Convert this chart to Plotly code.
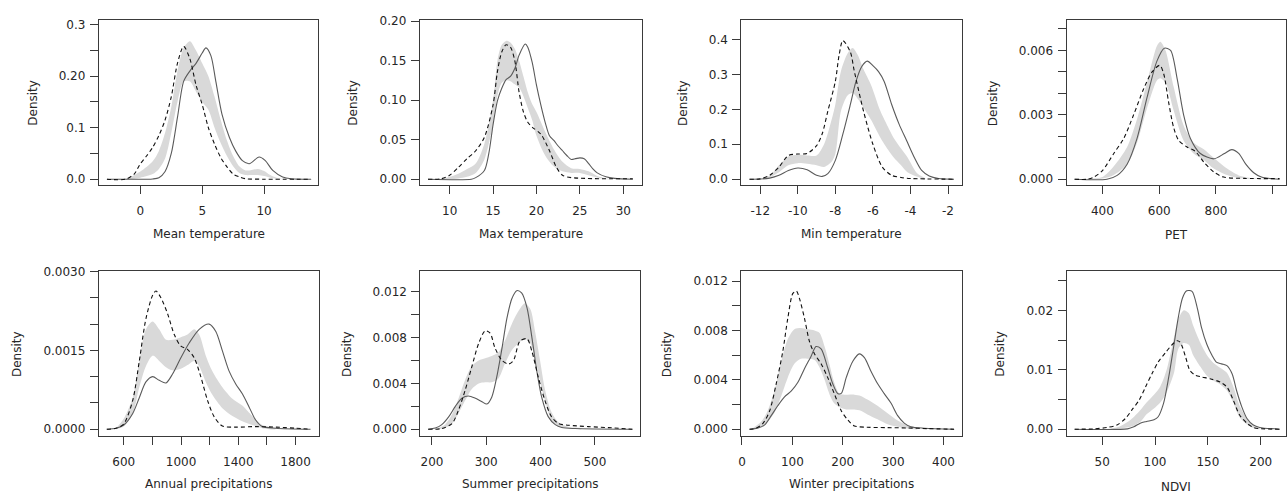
import plotly.graph_objects as go

W, H = 1287, 495

# ---------------- data ----------------
# Panel 1: Mean temperature
mt_solid_x = [-2.7, 0.5, 1.0, 1.5, 2.0, 2.5, 3.0, 3.5, 4.0, 4.5, 5.0, 5.3, 5.7, 6.1, 6.6, 7.2, 7.7, 8.25, 8.8, 9.6, 10.1, 10.7, 11.5, 12.2, 13.8]
mt_solid_y = [0, 0, 0.0005, 0.003, 0.015, 0.05, 0.12, 0.19, 0.21, 0.225, 0.245, 0.255, 0.24, 0.19, 0.126, 0.081, 0.055, 0.036, 0.03, 0.043, 0.036, 0.017, 0.0045, 0.001, 0]
mt_dash_x = [-2.7, -1.2, -0.5, 0, 0.5, 1, 1.5, 2, 2.5, 3, 3.5, 4.0, 4.5, 5, 5.5, 6, 6.5, 7, 7.5, 8, 8.5, 10, 13.8]
mt_dash_y = [0, 0, 0.01, 0.03, 0.045, 0.062, 0.085, 0.115, 0.16, 0.225, 0.258, 0.234, 0.183, 0.145, 0.1, 0.068, 0.042, 0.024, 0.01, 0.0045, 0.001, 0, 0]
mt_band_x = [-1.5, -1, 0, 1, 1.5, 2, 2.5, 3, 3.5, 4, 4.5, 5, 5.5, 6, 6.5, 7, 7.5, 8, 8.5, 9, 9.5, 10, 10.5, 11, 12]
mt_band_hi = [0, 0.002, 0.015, 0.035, 0.055, 0.09, 0.14, 0.21, 0.255, 0.268, 0.25, 0.225, 0.2, 0.16, 0.115, 0.075, 0.045, 0.025, 0.017, 0.018, 0.02, 0.016, 0.008, 0.003, 0]
mt_band_lo = [0, 0, 0.003, 0.01, 0.02, 0.04, 0.09, 0.15, 0.19, 0.19, 0.17, 0.15, 0.135, 0.1, 0.07, 0.045, 0.025, 0.012, 0.008, 0.008, 0.008, 0.006, 0.003, 0.001, 0]

# Panel 2: Max temperature
xt_solid_x = [7.5, 12.5, 13, 14, 14.5, 15, 15.5, 16, 16.5, 17, 17.5, 18, 18.7, 19, 19.5, 20, 20.5, 21, 21.5, 22, 22.5, 23, 23.5, 24, 24.5, 25, 25.5, 26, 26.5, 27, 28, 29, 31.1]
xt_solid_y = [0, 0, 0.002, 0.011, 0.032, 0.069, 0.099, 0.115, 0.126, 0.13, 0.14, 0.157, 0.171, 0.167, 0.148, 0.119, 0.094, 0.072, 0.055, 0.049, 0.042, 0.036, 0.03, 0.025, 0.026, 0.027, 0.026, 0.02, 0.013, 0.008, 0.003, 0.001, 0]
xt_dash_x = [7.5, 9, 10, 11, 12, 13, 14, 15, 15.5, 16, 16.5, 17, 17.5, 18, 18.5, 19, 19.5, 20.5, 21.5, 22.3, 23, 24, 31.1]
xt_dash_y = [0, 0.0005, 0.005, 0.015, 0.026, 0.036, 0.053, 0.094, 0.136, 0.161, 0.17, 0.167, 0.15, 0.11, 0.085, 0.072, 0.066, 0.057, 0.036, 0.015, 0.005, 0.002, 0.0005]
xt_band_x = [9, 10, 11, 12, 13, 14, 15, 15.5, 16, 16.5, 17, 17.5, 18, 18.5, 19, 19.5, 20, 21, 22, 23, 24, 25, 26, 27, 28, 29]
xt_band_hi = [0, 0.003, 0.007, 0.013, 0.02, 0.045, 0.1, 0.15, 0.17, 0.175, 0.173, 0.165, 0.15, 0.13, 0.11, 0.095, 0.085, 0.06, 0.038, 0.022, 0.014, 0.013, 0.01, 0.004, 0.001, 0]
xt_band_lo = [0, 0, 0.001, 0.003, 0.008, 0.025, 0.07, 0.105, 0.122, 0.125, 0.124, 0.12, 0.116, 0.105, 0.09, 0.075, 0.055, 0.03, 0.016, 0.01, 0.008, 0.008, 0.005, 0.002, 0, 0]

# Panel 3: Min temperature
nt_solid_x = [-12.57, -12, -11.5, -11, -10.5, -10, -9.5, -9, -8.7, -8.4, -8, -7.6, -7.2, -6.9, -6.6, -6.3, -6, -5.7, -5.4, -5, -4.6, -4.2, -3.8, -3.4, -3, -2.5, -1.68]
nt_solid_y = [0, 0.0005, 0.003, 0.011, 0.025, 0.032, 0.027, 0.011, 0.008, 0.016, 0.054, 0.129, 0.214, 0.28, 0.322, 0.338, 0.325, 0.308, 0.28, 0.214, 0.157, 0.11, 0.063, 0.025, 0.009, 0.002, 0]
nt_dash_x = [-12.57, -12, -11.5, -11, -10.5, -10, -9.5, -9, -8.7, -8.4, -8, -7.8, -7.6, -7.2, -7, -6.5, -6, -5.5, -5, -4.5, -4, -1.68]
nt_dash_y = [0, 0.001, 0.011, 0.035, 0.068, 0.072, 0.074, 0.096, 0.13, 0.195, 0.28, 0.355, 0.397, 0.364, 0.312, 0.195, 0.1, 0.035, 0.011, 0.005, 0.002, 0]
nt_band_x = [-12, -11.5, -11, -10.5, -10, -9.5, -9, -8.6, -8.2, -8, -7.7, -7.35, -7.08, -6.8, -6.5, -6.1, -5.6, -5.2, -4.9, -4.5, -4.16, -3.63, -3.2]
nt_band_hi = [0, 0.01, 0.04, 0.065, 0.07, 0.068, 0.068, 0.1, 0.17, 0.214, 0.31, 0.36, 0.376, 0.355, 0.315, 0.27, 0.195, 0.15, 0.119, 0.088, 0.063, 0.016, 0.002]
nt_band_lo = [0, 0.005, 0.02, 0.04, 0.046, 0.044, 0.04, 0.035, 0.05, 0.072, 0.195, 0.24, 0.247, 0.23, 0.205, 0.17, 0.119, 0.085, 0.063, 0.04, 0.02, 0.007, 0.001]

# Panel 4: PET
pet_solid_x = [302, 416, 452, 487, 522, 557, 592, 618, 640, 663, 686, 710, 745, 792, 830, 856, 880, 905, 933, 960, 1000, 1024]
pet_solid_y = [0, 0, 0.00018, 0.0007, 0.0019, 0.0038, 0.0055, 0.0061, 0.006, 0.0047, 0.003, 0.0019, 0.0012, 0.00095, 0.0012, 0.00138, 0.0012, 0.0007, 0.0003, 0.0001, 0.00002, 0]
pet_dash_x = [302, 346, 370, 400, 440, 475, 510, 545, 575, 602, 616, 633, 651, 669, 698, 727, 757, 792, 827, 900, 1024]
pet_dash_y = [0, 0, 0.0001, 0.0004, 0.0012, 0.0019, 0.003, 0.0042, 0.005, 0.0053, 0.0049, 0.0036, 0.0024, 0.0018, 0.0015, 0.0013, 0.0008, 0.00034, 0.0001, 0.00004, 0.00003]
pet_band_x = [346, 400, 440, 487, 522, 557, 592, 604, 622, 651, 686, 721, 757, 792, 839, 886, 933, 980]
pet_band_hi = [0.00002, 0.0001, 0.0006, 0.0015, 0.0028, 0.0045, 0.0062, 0.0064, 0.006, 0.0043, 0.0025, 0.0017, 0.0014, 0.001, 0.0005, 0.00015, 0.00004, 0]
pet_band_lo = [0, 0.00003, 0.0002, 0.0007, 0.0017, 0.0033, 0.0046, 0.0047, 0.0045, 0.0032, 0.0018, 0.0012, 0.0009, 0.0005, 0.0002, 0.00005, 0.00001, 0]

# Panel 5: Annual precipitations
ap_solid_x = [482, 547, 600, 663, 709, 755, 802, 848, 895, 941, 999, 1057, 1127, 1196, 1243, 1289, 1335, 1382, 1428, 1475, 1521, 1567, 1660, 1904]
ap_solid_y = [0, 0.00002, 0.00008, 0.0003, 0.0006, 0.0009, 0.001, 0.00093, 0.00088, 0.00105, 0.00136, 0.00164, 0.0019, 0.002, 0.00186, 0.00149, 0.00111, 0.00086, 0.000675, 0.000425, 0.000175, 0.00005, 0.00002, 0]
ap_dash_x = [482, 547, 600, 663, 709, 755, 802, 825, 860, 906, 953, 999, 1045, 1092, 1138, 1185, 1231, 1289, 1382, 1521, 1660, 1799, 1904]
ap_dash_y = [0, 0.00002, 0.0001, 0.00055, 0.0013, 0.0021, 0.00255, 0.00263, 0.0025, 0.0022, 0.0018, 0.00158, 0.00152, 0.00136, 0.001, 0.00055, 0.00024, 0.00006, 0.00004, 0.00005, 0.00004, 0.00002, 0]
ap_band_x = [547, 600, 663, 709, 755, 802, 848, 895, 941, 999, 1045, 1092, 1127, 1173, 1220, 1289, 1359, 1428, 1498, 1567, 1660]
ap_band_hi = [0.00002, 0.0002, 0.0006, 0.0013, 0.0019, 0.00205, 0.0019, 0.0017, 0.0017, 0.00175, 0.0018, 0.0019, 0.0018, 0.0014, 0.0011, 0.0008, 0.00058, 0.00045, 0.00025, 0.00008, 0.00002]
ap_band_lo = [0, 0.00005, 0.0003, 0.0008, 0.0012, 0.0014, 0.0013, 0.00118, 0.00112, 0.00115, 0.00122, 0.0013, 0.0012, 0.0009, 0.00065, 0.0004, 0.00025, 0.00015, 0.00008, 0.00002, 0]

# Panel 6: Summer precipitations
sp_solid_x = [193, 206, 218, 231, 243, 255, 267, 280, 292, 301, 310, 319, 329, 338, 347, 356, 365, 375, 384, 393, 402, 414, 427, 439, 463, 569]
sp_solid_y = [0, 0.0001, 0.0004, 0.0011, 0.002, 0.0027, 0.0029, 0.0027, 0.0024, 0.0022, 0.0028, 0.0045, 0.0071, 0.0097, 0.0114, 0.0121, 0.0119, 0.0106, 0.008, 0.0051, 0.0028, 0.0011, 0.0004, 0.00015, 0.00006, 0]
sp_dash_x = [193, 218, 237, 249, 261, 273, 286, 298, 307, 316, 329, 341, 350, 362, 375, 384, 396, 408, 420, 433, 451, 488, 525, 569]
sp_dash_y = [0, 0.00006, 0.0005, 0.0017, 0.0034, 0.0054, 0.0075, 0.0086, 0.0084, 0.0071, 0.006, 0.0057, 0.006, 0.0077, 0.0079, 0.0068, 0.0045, 0.0025, 0.0011, 0.0005, 0.00035, 0.00023, 0.00014, 0]
sp_band_x = [212, 224, 237, 249, 261, 273, 286, 298, 310, 322, 335, 347, 359, 371, 381, 390, 399, 408, 420, 433, 451, 475]
sp_band_hi = [0.0001, 0.0004, 0.0013, 0.0027, 0.0043, 0.0055, 0.006, 0.0062, 0.0064, 0.0067, 0.0078, 0.0092, 0.0103, 0.011, 0.0105, 0.0085, 0.006, 0.0035, 0.0015, 0.0006, 0.0002, 0.0001]
sp_band_lo = [0, 0.0001, 0.0005, 0.0014, 0.0025, 0.0035, 0.004, 0.0041, 0.0041, 0.0044, 0.0058, 0.0069, 0.0075, 0.0079, 0.0075, 0.0062, 0.0042, 0.0025, 0.0008, 0.0003, 0.0001, 0]

# Panel 7: Winter precipitations
wp_solid_x = [15, 32, 45, 58, 71, 84, 98, 111, 124, 137, 147, 157, 170, 180, 190, 197, 207, 220, 233, 243, 256, 269, 282, 296, 309, 322, 335, 362, 421]
wp_solid_y = [0, 0.0001, 0.00035, 0.0011, 0.0019, 0.0026, 0.0031, 0.0038, 0.0049, 0.0059, 0.0067, 0.0065, 0.005, 0.0037, 0.0029, 0.0029, 0.0042, 0.0055, 0.0061, 0.0058, 0.0047, 0.0037, 0.0029, 0.0021, 0.0011, 0.0005, 0.0002, 0.00008, 0]
wp_dash_x = [15, 28, 42, 55, 68, 81, 91, 101, 108, 114, 124, 134, 144, 157, 170, 183, 197, 210, 223, 249, 289, 329, 368, 421]
wp_dash_y = [0, 0.00008, 0.0005, 0.0015, 0.0037, 0.0063, 0.009, 0.011, 0.0112, 0.0106, 0.009, 0.0071, 0.0061, 0.0053, 0.0042, 0.0029, 0.0015, 0.00075, 0.00027, 0.00016, 0.00013, 0.0001, 0.00005, 0]
wp_band_x = [22, 38, 51, 65, 78, 91, 104, 117, 131, 144, 154, 164, 174, 183, 193, 207, 223, 236, 249, 269, 289, 309, 329, 348]
wp_band_hi = [0.0001, 0.0006, 0.0015, 0.0032, 0.0055, 0.0073, 0.0081, 0.0082, 0.0081, 0.008, 0.0078, 0.0067, 0.0052, 0.0038, 0.0029, 0.0028, 0.0028, 0.0027, 0.0024, 0.0019, 0.0013, 0.0007, 0.0003, 0.0001]
wp_band_lo = [0, 0.0002, 0.0006, 0.0014, 0.0027, 0.0042, 0.0053, 0.0057, 0.0057, 0.0056, 0.005, 0.004, 0.0028, 0.0021, 0.0018, 0.0016, 0.0016, 0.0015, 0.0012, 0.0008, 0.0004, 0.0002, 0.00005, 0]

# Panel 8: NDVI
nd_solid_x = [24, 74, 80, 86, 92, 99, 103, 108, 113, 118, 122, 126, 130, 135, 140, 144, 149, 154, 158, 163, 168, 173, 177, 182, 187, 193, 199, 218]
nd_solid_y = [0, 0.00005, 0.0004, 0.001, 0.0013, 0.0016, 0.0021, 0.0043, 0.0088, 0.0143, 0.0188, 0.0221, 0.0233, 0.0232, 0.0204, 0.0171, 0.0143, 0.0124, 0.0113, 0.011, 0.0107, 0.0093, 0.0066, 0.0038, 0.0018, 0.0007, 0.0003, 0]
nd_dash_x = [24, 42, 55, 64, 72, 78, 85, 91, 97, 103, 110, 116, 121, 124, 129, 133, 138, 144, 152, 162, 168, 174, 180, 187, 193, 199, 218]
nd_dash_y = [0, 0.00005, 0.0003, 0.0007, 0.0018, 0.0032, 0.0049, 0.0071, 0.0093, 0.0113, 0.0129, 0.0142, 0.0149, 0.0146, 0.0121, 0.0099, 0.0091, 0.0088, 0.0085, 0.0079, 0.0071, 0.0049, 0.0024, 0.001, 0.0003, 0.0001, 0]
nd_band_x = [58, 67, 77, 86, 92, 99, 105, 111, 118, 122, 127, 132, 136, 143, 149, 155, 162, 168, 174, 180, 187, 193, 199]
nd_band_hi = [0.0001, 0.0005, 0.0016, 0.0032, 0.0045, 0.0058, 0.0072, 0.01, 0.0155, 0.0185, 0.02, 0.0195, 0.0175, 0.0145, 0.0125, 0.0112, 0.0103, 0.0095, 0.0072, 0.004, 0.0018, 0.0006, 0.0002]
nd_band_lo = [0, 0.0001, 0.0004, 0.0012, 0.0025, 0.0035, 0.0045, 0.0062, 0.0095, 0.0135, 0.0145, 0.0142, 0.0125, 0.0105, 0.009, 0.0082, 0.0075, 0.0065, 0.0045, 0.002, 0.0008, 0.0002, 0]

# titles and ticks
x_titles = ["Mean temperature", "Max temperature", "Min temperature", "PET",
            "Annual precipitations", "Summer precipitations", "Winter precipitations", "NDVI"]
x_tickvals = [[0, 5, 10], [10, 15, 20, 25, 30], [-12, -10, -8, -6, -4, -2], [400, 600, 800, 1000],
              [600, 800, 1000, 1200, 1400, 1600, 1800], [200, 300, 400, 500], [0, 100, 200, 300, 400], [50, 100, 150, 200]]
x_ticktext = [["0", "5", "10"], ["10", "15", "20", "25", "30"], ["-12", "-10", "-8", "-6", "-4", "-2"],
              ["400", "600", "800", "1000"], ["600", "", "1000", "", "1400", "", "1800"],
              ["200", "300", "400", "500"], ["0", "100", "200", "300", "400"], ["50", "100", "150", "200"]]
y_tickvals = [[0, 0.05, 0.1, 0.15, 0.2, 0.25, 0.3], [0, 0.05, 0.1, 0.15, 0.2], [0, 0.1, 0.2, 0.3, 0.4],
              [0, 0.001, 0.002, 0.003, 0.004, 0.005, 0.006, 0.007],
              [0, 0.0005, 0.001, 0.0015, 0.002, 0.0025, 0.003],
              [0, 0.002, 0.004, 0.006, 0.008, 0.01, 0.012],
              [0, 0.002, 0.004, 0.006, 0.008, 0.01, 0.012],
              [0, 0.005, 0.01, 0.015, 0.02, 0.025]]
y_ticktext = [["0.0", "", "0.1", "", "0.20", "", "0.3"], ["0.00", "0.05", "0.10", "0.15", "0.20"],
              ["0.0", "0.1", "0.2", "0.3", "0.4"], ["0.000", "", "", "0.003", "", "", "0.006", ""],
              ["0.0000", "", "", "0.0015", "", "", "0.0030"],
              ["0.000", "", "0.004", "", "0.008", "", "0.012"],
              ["0.000", "", "0.004", "", "0.008", "", "0.012"],
              ["0.00", "", "0.01", "", "0.02", ""]]

# ---------------- layout geometry (pixels) ----------------
x_ranges = [[-3.36, 14.38], [6.55, 32.1], [-13.01, -1.23], [273.5, 1046.7],
            [426, 1963], [178.5, 582.7], [-1.4, 437.6], [16.3, 223.9]]
y_ranges = [[-0.0115, 0.3082], [-0.0075, 0.2008], [-0.017, 0.4545], [-0.000275, 0.00739],
            [-0.000135, 0.003006], [-0.00062, 0.0138], [-0.000575, 0.0128], [-0.0012, 0.0266]]
box_px = [(96, 316, 14.7, 181.7), (417.7, 640, 14.7, 181.7), (740, 961.7, 14.7, 181.7), (1066, 1286, 14.7, 181.7),
          (96, 316.7, 269, 436.5), (418.3, 638.3, 269, 436.5), (740, 961.7, 269, 436.5), (1066, 1286, 269, 436.5)]
ytitle_x = [30, 350.7, 681.7, 991.7, 13.3, 345, 665, 999.3]
xtitle_y = [231.5, 231.5, 231.5, 232, 485, 485, 485, 488]

panels = [
    (mt_solid_x, mt_solid_y, mt_dash_x, mt_dash_y, mt_band_x, mt_band_lo, mt_band_hi),
    (xt_solid_x, xt_solid_y, xt_dash_x, xt_dash_y, xt_band_x, xt_band_lo, xt_band_hi),
    (nt_solid_x, nt_solid_y, nt_dash_x, nt_dash_y, nt_band_x, nt_band_lo, nt_band_hi),
    (pet_solid_x, pet_solid_y, pet_dash_x, pet_dash_y, pet_band_x, pet_band_lo, pet_band_hi),
    (ap_solid_x, ap_solid_y, ap_dash_x, ap_dash_y, ap_band_x, ap_band_lo, ap_band_hi),
    (sp_solid_x, sp_solid_y, sp_dash_x, sp_dash_y, sp_band_x, sp_band_lo, sp_band_hi),
    (wp_solid_x, wp_solid_y, wp_dash_x, wp_dash_y, wp_band_x, wp_band_lo, wp_band_hi),
    (nd_solid_x, nd_solid_y, nd_dash_x, nd_dash_y, nd_band_x, nd_band_lo, nd_band_hi),
]

FONT = "DejaVu Sans"
TXT = "#262626"
AX = "#3a3a3a"

fig = go.Figure()
annotations = []
layout_axes = {}

for i, (sx, sy, dx, dy, bx, blo, bhi) in enumerate(panels):
    n = i + 1
    xa = "x" if n == 1 else f"x{n}"
    ya = "y" if n == 1 else f"y{n}"
    # band polygon
    fig.add_trace(go.Scatter(x=list(bx) + list(bx)[::-1], y=list(bhi) + list(blo)[::-1],
                             fill="toself", fillcolor="#d9d9d9", line=dict(width=0, shape="spline", smoothing=0.8),
                             mode="lines", hoverinfo="skip", showlegend=False, xaxis=xa, yaxis=ya))
    fig.add_trace(go.Scatter(x=sx, y=sy, mode="lines",
                             line=dict(color="#5a5a5a", width=1.1, shape="spline", smoothing=0.8),
                             showlegend=False, xaxis=xa, yaxis=ya))
    fig.add_trace(go.Scatter(x=dx, y=dy, mode="lines",
                             line=dict(color="#111111", width=1.1, dash="4px,3px", shape="spline", smoothing=0.8),
                             showlegend=False, xaxis=xa, yaxis=ya))

    l, r, t, b = box_px[i]
    xdom = [l / W, r / W]
    ydom = [1 - b / H, 1 - t / H]
    axis_common = dict(showline=True, linecolor=AX, linewidth=1, mirror=True, ticks="outside",
                       ticklen=8, tickwidth=1, tickcolor=AX, showgrid=False, zeroline=False,
                       tickmode="array", tickfont=dict(family=FONT, size=12, color=TXT))
    xkey = "xaxis" if n == 1 else f"xaxis{n}"
    ykey = "yaxis" if n == 1 else f"yaxis{n}"
    layout_axes[xkey] = dict(axis_common, domain=xdom, range=x_ranges[i], anchor=ya,
                             tickvals=x_tickvals[i], ticktext=x_ticktext[i], ticklabelstandoff=6)
    layout_axes[ykey] = dict(axis_common, domain=ydom, range=y_ranges[i], anchor=xa,
                             tickvals=y_tickvals[i], ticktext=y_ticktext[i], ticklabelstandoff=2)

    annotations.append(dict(text=x_titles[i], xref="paper", yref="paper",
                            x=(l + r) / 2 / W, y=1 - xtitle_y[i] / H, xanchor="center", yanchor="middle",
                            showarrow=False, font=dict(family=FONT, size=12, color=TXT)))
    annotations.append(dict(text="Density", xref="paper", yref="paper", textangle=-90,
                            x=ytitle_x[i] / W, y=1 - (t + b) / 2 / H, xanchor="center", yanchor="middle",
                            showarrow=False, font=dict(family=FONT, size=12, color=TXT)))

fig.update_layout(width=W, height=H, margin=dict(l=0, r=0, t=0, b=0),
                  paper_bgcolor="white", plot_bgcolor="white",
                  font=dict(family=FONT, size=12, color=TXT),
                  annotations=annotations, **layout_axes)

fig.write_html("out.html", config={"displayModeBar": False},
               post_script="document.body.style.margin='0';document.body.style.overflow='hidden';")
